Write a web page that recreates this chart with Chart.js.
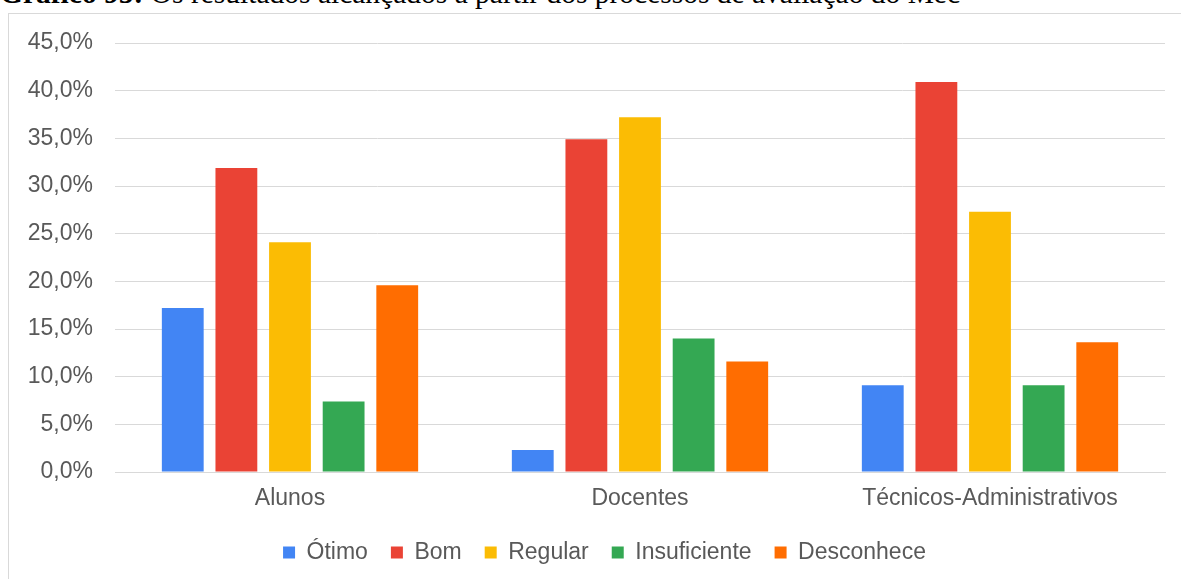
<!DOCTYPE html>
<html>
<head>
<meta charset="utf-8">
<script src="https://cdn.jsdelivr.net/npm/chart.js@4.4.1/dist/chart.umd.min.js"></script>
<style>
  html, body { margin: 0; padding: 0; background: #fff; overflow: hidden; }
  body { width: 1181px; height: 579px; position: relative; }
  #titulo {
    position: absolute; left: 0; top: -21px; white-space: nowrap;
    font-family: "Liberation Serif", "Times New Roman", serif; font-size: 29.5px; line-height: 29.5px; color: #000;
  }
  #moldura {
    position: absolute; left: 8px; top: 13px; width: 1200px; height: 600px;
    border: 1px solid #d9d9d9; box-sizing: border-box;
  }
  #grafico-box { position: absolute; left: 0; top: 0; width: 1181px; height: 579px; }
</style>
</head>
<body>
<div id="titulo"><b>Gráfico 95:</b> Os resultados alcançados a partir dos processos de avaliação do Mec</div>
<div id="moldura"></div>
<div id="grafico-box"><canvas id="grafico"></canvas></div>
<script>
// categorias e valores (%)
const categorias = ["Alunos", "Docentes", "Técnicos-Administrativos"];
const otimo = [17.2, 2.3, 9.1];
const bom = [31.9, 34.9, 40.9];
const regular = [24.1, 37.2, 27.3];
const insuficiente = [7.4, 14.0, 9.1];
const desconhece = [19.6, 11.6, 13.6];
const ticksY = [0, 5, 10, 15, 20, 25, 30, 35, 40, 45];

const corTexto = "#595959";
const fonte = "'Liberation Sans', Arial, sans-serif";

function serie(label, data, cor) {
  return {
    label: label,
    data: data,
    backgroundColor: cor,
    categoryPercentage: 0.766,
    barPercentage: 0.78,
  };
}

// legenda centrada na moldura, nao no canvas
const deslocaLegenda = {
  id: "deslocaLegenda",
  afterLayout(chart) {
    chart.legend.left += 10;
    chart.legend.right += 10;
  },
};

const canvas = document.getElementById("grafico");

new Chart(canvas, {
  type: "bar",
  data: {
    labels: categorias,
    datasets: [
      serie("Ótimo", otimo, "#4285f4"),
      serie("Bom", bom, "#ea4335"),
      serie("Regular", regular, "#fbbc04"),
      serie("Insuficiente", insuficiente, "#34a853"),
      serie("Desconhece", desconhece, "#ff6d01"),
    ],
  },
  plugins: [deslocaLegenda],
  options: {
    responsive: true,
    maintainAspectRatio: false,
    animation: false,
    layout: { padding: { top: 43, right: 16, bottom: 5, left: 24 } },
    plugins: {
      tooltip: { enabled: false },
      legend: {
        position: "bottom",
        labels: {
          boxWidth: 12,
          boxHeight: 12,
          padding: 23,
          color: corTexto,
          font: { family: fonte, size: 23 },
        },
      },
    },
    scales: {
      x: {
        grid: { display: false, drawTicks: false },
        border: { display: true, color: "#d9d9d9", width: 1 },
        ticks: { color: corTexto, font: { family: fonte, size: 23 }, padding: 13 },
        afterFit: (scale) => { scale.height = 46; },
      },
      y: {
        min: 0,
        max: 45,
        afterBuildTicks: (scale) => {
          scale.ticks = ticksY.map((v) => ({ value: v }));
        },
        grid: { color: "#d9d9d9", lineWidth: 1, drawTicks: false },
        border: { display: false },
        ticks: {
          color: corTexto,
          font: { family: fonte, size: 23 },
          padding: 22,
          callback: (v) => v.toFixed(1).replace(".", ",") + "%",
        },
        afterFit: (scale) => { scale.width = 91; },
      },
    },
  },
});
</script>
</body>
</html>
